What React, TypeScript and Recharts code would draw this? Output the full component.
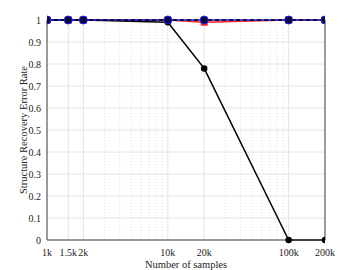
import { LineChart, Line, XAxis, YAxis, CartesianGrid, ReferenceLine } from "recharts";

const samples = [1000, 1500, 2000, 10000, 20000, 100000, 200000];
const sampleLabels = ["1k", "1.5k", "2k", "10k", "20k", "100k", "200k"];
const redRate = [1, 1, 1, 1, 0.99, 1, 1];
const blueRate = [1, 1, 1, 1, 1, 1, 1];
const dashedRate = [1, 1, 1, 1, 1, 1, 1];
const blackRate = [1, 1, 1, 0.99, 0.78, 0, 0];
const yTicks = [0, 0.1, 0.2, 0.3, 0.4, 0.5, 0.6, 0.7, 0.8, 0.9, 1];
const minorTicks = [3000, 4000, 5000, 6000, 7000, 8000, 9000, 30000, 40000, 50000, 60000, 70000, 80000, 90000];

const data = samples.map((n, i) => ({
  n,
  red: redRate[i],
  blue: blueRate[i],
  dashed: dashedRate[i],
  black: blackRate[i],
}));

const font = "Liberation Serif";

const RedSquare = (props: any) => {
  const { cx, cy } = props;
  if (cx == null || cy == null) return null;
  return <rect x={cx - 3} y={cy - 3} width={6} height={6} fill="#ff2020" stroke="#ff2020" />;
};

const NoTick = () => <g />;

export default function App() {
  return (
    <div style={{ position: "relative", width: 360, height: 270, background: "#fff", fontFamily: font }}>
      <style>{`body{margin:0}`}</style>
      <LineChart
        width={360}
        height={270}
        data={data}
        margin={{ top: 20, right: 35, bottom: 0, left: 0 }}
      >
        <CartesianGrid stroke="#e4e4e4" vertical horizontal />
        {minorTicks.map((m) => (
          <ReferenceLine key={m} x={m} stroke="#dcdcdc" strokeDasharray="1 2" />
        ))}
        <XAxis
          dataKey="n"
          type="number"
          scale="log"
          domain={[1000, 200000]}
          ticks={samples}
          interval={0}
          allowDataOverflow
          tickFormatter={(v: number) => sampleLabels[samples.indexOf(v)] ?? ""}
          tick={{ fontSize: 10, fill: "#222", fontFamily: font }}
          tickLine={false}
          tickMargin={3}
          stroke="#444"
          height={30}
          label={{ value: "Number of samples", position: "insideBottom", offset: 2, fontSize: 10.5, fill: "#222", fontFamily: font }}
        />
        <YAxis
          type="number"
          domain={[0, 1]}
          ticks={yTicks}
          interval={0}
          tickFormatter={(v: number) => String(v)}
          tick={{ fontSize: 10, fill: "#222", fontFamily: font }}
          tickLine={false}
          tickMargin={0}
          stroke="#444"
          width={47}
        />
        <YAxis
          yAxisId="right"
          orientation="right"
          domain={[0, 1]}
          ticks={yTicks}
          interval={0}
          mirror
          tick={<NoTick />}
          tickLine={{ stroke: "#444" }}
          tickSize={3}
          stroke="#444"
          width={1}
        />
        <Line
          dataKey="red"
          stroke="#ff2020"
          strokeWidth={1.5}
          dot={<RedSquare />}
          isAnimationActive={false}
        />
        <Line
          dataKey="black"
          stroke="#000"
          strokeWidth={1.5}
          dot={{ r: 2.5, fill: "#000", stroke: "#000" }}
          isAnimationActive={false}
        />
        <Line
          dataKey="blue"
          stroke="#1a1aff"
          strokeWidth={1.5}
          dot={{ r: 4, fill: "#0a0a3a", stroke: "#2020ff", strokeWidth: 1 }}
          isAnimationActive={false}
        />
        <Line
          dataKey="dashed"
          stroke="#000"
          strokeWidth={1.5}
          strokeDasharray="4 3"
          dot={false}
          isAnimationActive={false}
        />
      </LineChart>
      <div
        style={{
          position: "absolute",
          left: 24,
          top: 130,
          transform: "translate(-50%, -50%) rotate(-90deg)",
          whiteSpace: "nowrap",
          fontSize: 10.5,
          lineHeight: "12px",
          color: "#222",
        }}
      >
        Structure Recovery Error Rate
      </div>
    </div>
  );
}
